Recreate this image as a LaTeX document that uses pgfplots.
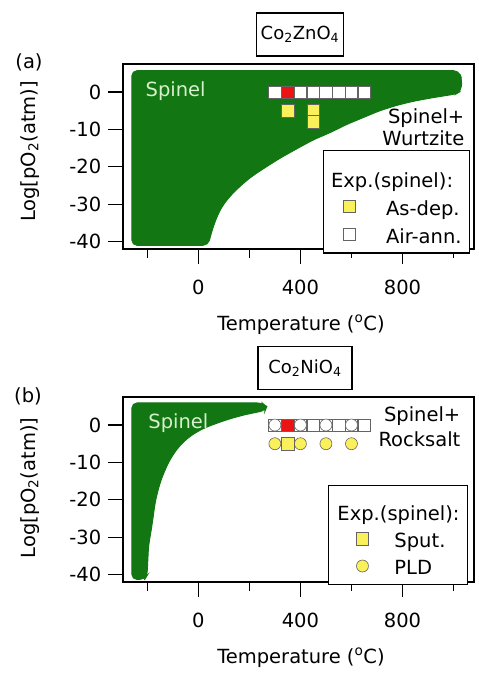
\documentclass[border=0pt]{standalone}
\usepackage{fontspec}
\setmainfont{DejaVu Sans}
\usepackage{pgfplots}
\pgfplotsset{compat=1.18}

\definecolor{spinelgreen}{RGB}{18,118,18}
\definecolor{spinellabel}{RGB}{215,240,205}
\definecolor{markyellow}{RGB}{250,240,90}
\definecolor{markred}{RGB}{235,20,20}
\definecolor{markedge}{RGB}{100,100,100}

\pgfplotsset{
  phase/.style={
    width=351pt, height=185pt, scale only axis,
    xmin=-295, xmax=1080, ymin=-42, ymax=7.5,
    axis line style={line width=1.2pt},
    xtick={0,400,800}, xticklabels={0,400,800},
    minor xtick={-200,200,600,1000},
    ytick={-40,-30,-20,-10,0}, yticklabels={-40,-30,-20,-10,0},
    tick align=outside, tick pos=left,
    major tick length=15pt, minor tick length=9pt,
    every tick/.style={black, line width=1.2pt},
    xticklabel style={yshift=-9pt},
    xlabel={Temperature (\textsuperscript{o}C)},
    ylabel={Log[pO\textsubscript{2}(atm)]},
    every axis x label/.style={at={(axis description cs:0.507,-0.41)}, anchor=center},
    every axis y label/.style={at={(axis description cs:-0.265,0.527)}, rotate=90, anchor=center},
    legend style={draw=black, line width=1.2pt, fill=white,
      inner xsep=6pt, inner ysep=5pt, row sep=6pt, column sep=0pt,
      cells={anchor=west}},
    legend cell align=left,
  },
  % white / red / yellow experimental symbols
  sq/.style={only marks, mark=square*, mark size=6.2pt,
    mark options={fill=#1, draw=markedge, line width=0.6pt}},
  ci/.style={only marks, mark=*, mark size=6pt,
    mark options={fill=#1, draw=markedge, line width=0.6pt}},
}

\begin{document}
\fontsize{19.5pt}{23pt}\selectfont
\begin{tikzpicture}
\useasboundingbox (0pt,0pt) rectangle (479pt,-673pt);

% ---------------- (a) Co2ZnO4 ----------------
\begin{axis}[phase, at={(123pt,-64pt)}, anchor=north west,
  legend style={at={(0.989,0.535)}, anchor=north east},
  legend image code/.code={\path[draw=none, fill=none] (0pt,-6pt) rectangle (55pt,6pt);
    \draw[#1] plot coordinates {(20pt,3pt)};}]
\addplot[forget plot, fill=spinelgreen, draw=spinelgreen, line width=1pt, rounded corners=5pt]
  coordinates {(-260,5.7) (1020,5.7) (1032,3.5) (1030,0.3) (1010,-0.5)
    (910,-1.6) (840,-2.5) (780,-3.5) (710,-5.0) (647,-6.8) (580,-8.7)
    (518,-10.8) (450,-12.8) (388,-15.1) (320,-17.7) (255,-20.5) (205,-22.8)
    (165,-25.1) (125,-27.8) (94,-30.5) (72,-33.5) (55,-36.8) (38,-41.0)
    (-260,-41.0)} -- cycle;
\addplot[forget plot, sq=white] coordinates {(300,0) (400,0) (450,0) (500,0) (550,0) (600,0) (650,0)};
\addplot[forget plot, sq=markred] coordinates {(350,0)};
\addplot[forget plot, sq=markyellow] coordinates {(350,-5) (450,-5) (450,-8)};
\addlegendimage{empty legend}
\addlegendentry{\hspace*{-55pt}\rule[-5pt]{0pt}{35pt}Exp.(spinel):}
\addlegendimage{sq=markyellow}
\addlegendentry{\rule[-5pt]{0pt}{19pt}As-dep.}
\addlegendimage{sq=white}
\addlegendentry{\rule[-5pt]{0pt}{19pt}Air-ann.}
\end{axis}

\node[anchor=base west, text=spinellabel] at (139pt,-96.7pt) {Spinel};
\node[anchor=base east] at (471pt,-123pt) {Spinel+};
\node[anchor=base east] at (471pt,-145pt) {Wurtzite};
\node[draw=black, line width=1.2pt, minimum width=87pt, minimum height=43pt,
  inner sep=0pt, font=\fontsize{18pt}{21pt}\selectfont] at (300pt,-34.5pt)
  {Co\textsubscript{2}ZnO\textsubscript{4}};
\node at (29pt,-62.5pt) {(a)};

% ---------------- (b) Co2NiO4 ----------------
\begin{axis}[phase, at={(123pt,-397pt)}, anchor=north west,
  every axis y label/.style={at={(axis description cs:-0.265,0.508)}, rotate=90, anchor=center},
  legend style={at={(0.983,0.527)}, anchor=north east},
  legend image code/.code={\path[draw=none, fill=none] (0pt,-6pt) rectangle (58pt,6pt);
    \draw[#1] plot coordinates {(28pt,3pt)};}]
\addplot[forget plot, fill=spinelgreen, draw=spinelgreen, line width=1pt, rounded corners=5pt]
  coordinates {(-260,5.9) (250,5.9) (268,4.9) (262,3.9) (220,3.3) (178,2.7)
    (120,1.6) (73,0.5) (30,-0.6) (-5,-1.8) (-40,-3.4) (-71,-5.4) (-95,-7.5)
    (-116,-9.9) (-134,-12.6) (-149,-15.3) (-160,-18.0) (-169,-20.7)
    (-182,-27) (-195,-32.4) (-201,-40.3) (-210,-41.3) (-260,-41.3)} -- cycle;
\addplot[forget plot, sq=white] coordinates {(300,0) (400,0) (450,0) (500,0) (550,0) (600,0) (650,0)};
\addplot[forget plot, sq=markred] coordinates {(350,0)};
\addplot[forget plot, ci=white] coordinates {(300,0) (400,0) (500,0) (600,0)};
\addplot[forget plot, ci=markyellow] coordinates {(300,-5) (400,-5) (500,-5) (600,-5)};
\addplot[forget plot, sq=markyellow] coordinates {(350,-5)};
\addlegendimage{empty legend}
\addlegendentry{\hspace*{-57pt}\rule[-5pt]{0pt}{33pt}Exp.(spinel):}
\addlegendimage{sq=markyellow}
\addlegendentry{\rule[-5pt]{0pt}{19pt}Sput.}
\addlegendimage{ci=markyellow}
\addlegendentry{\rule[-5pt]{0pt}{19pt}PLD}
\end{axis}

\node[anchor=base west, text=spinellabel] at (141.7pt,-428.3pt) {Spinel};
\node[anchor=base east] at (467pt,-421.7pt) {Spinel+};
\node[anchor=base east] at (467pt,-446.7pt) {Rocksalt};
\node[draw=black, line width=1.2pt, minimum width=94pt, minimum height=43pt,
  inner sep=0pt, font=\fontsize{18pt}{21pt}\selectfont] at (305pt,-368pt)
  {Co\textsubscript{2}NiO\textsubscript{4}};
\node at (28pt,-396pt) {(b)};
\end{tikzpicture}
\end{document}
